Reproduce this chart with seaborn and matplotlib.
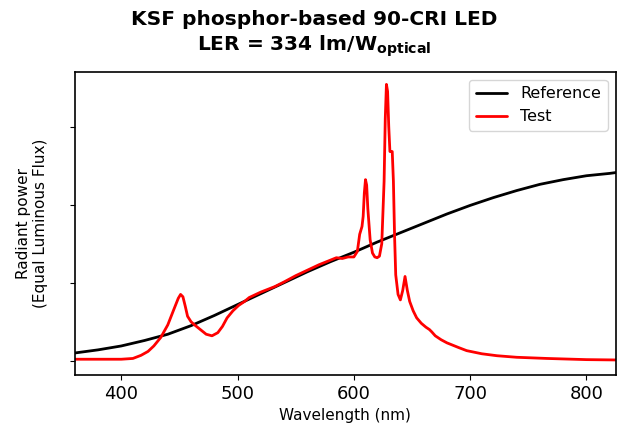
import seaborn as sns
import matplotlib.pyplot as plt
import pandas as pd

# Reference (black) spectrum
ref_nm = [360, 380, 400, 420, 440, 460, 480, 500, 520, 540, 560, 580, 600,
          620, 640, 660, 680, 700, 720, 740, 760, 780, 800, 820, 830]
ref_power = [0.10, 0.14, 0.19, 0.26, 0.34, 0.45, 0.58, 0.72, 0.86, 1.00, 1.14,
             1.27, 1.39, 1.52, 1.64, 1.76, 1.88, 1.99, 2.09, 2.18, 2.26, 2.32,
             2.37, 2.40, 2.42]

# Test (red) spectrum, KSF phosphor LED
test_nm = [360, 380, 400, 410, 417, 423, 428, 434, 440, 445, 449, 451, 453, 455,
           457, 460, 463, 468, 473, 478, 483, 487, 491, 496, 501, 506, 510, 520,
           532, 540, 550, 560, 570, 580, 585, 590, 595, 600, 603, 605, 607, 608,
           609, 610, 611, 612, 614, 616, 618, 620, 622, 624, 626, 627, 628, 629,
           630, 631, 632, 633, 634, 635, 636, 638, 640, 642, 644, 646, 648, 651,
           654, 658, 662, 665, 667, 670, 675, 680, 690, 697, 710, 723, 740, 766,
           800, 830]
test_power = [0.02, 0.02, 0.02, 0.03, 0.07, 0.12, 0.19, 0.30, 0.46, 0.65, 0.80,
              0.85, 0.82, 0.70, 0.57, 0.50, 0.46, 0.40, 0.34, 0.32, 0.36, 0.44,
              0.55, 0.64, 0.71, 0.76, 0.81, 0.88, 0.95, 1.01, 1.09, 1.16, 1.23,
              1.29, 1.32, 1.31, 1.33, 1.33, 1.40, 1.62, 1.72, 1.85, 2.15, 2.32,
              2.25, 1.95, 1.55, 1.38, 1.33, 1.32, 1.34, 1.50, 2.30, 3.10, 3.54,
              3.45, 3.00, 2.68, 2.68, 2.68, 2.30, 1.60, 1.10, 0.85, 0.78, 0.90,
              1.08, 0.90, 0.76, 0.64, 0.55, 0.48, 0.43, 0.40, 0.37, 0.32, 0.27,
              0.23, 0.17, 0.13, 0.09, 0.065, 0.045, 0.03, 0.015, 0.01]

title = 'KSF phosphor-based 90-CRI LED\nLER = 334 lm/W$_{\\mathbf{optical}}$'

ref_df = pd.DataFrame({'nm': ref_nm, 'power': ref_power})
test_df = pd.DataFrame({'nm': test_nm, 'power': test_power})

sns.set_style('ticks', rc={'text.color': 'black', 'axes.labelcolor': 'black',
                           'xtick.color': 'black', 'ytick.color': 'black',
                           'axes.edgecolor': 'black'})
plt.rcParams['font.family'] = ['DejaVu Sans']

fig = plt.figure(figsize=(6.23, 4.41), dpi=100)
ax = fig.add_axes([0.120, 0.150, 0.868, 0.687])

sns.lineplot(data=ref_df, x='nm', y='power', color='black', linewidth=2,
             label='Reference', ax=ax)
sns.lineplot(data=test_df, x='nm', y='power', color='red', linewidth=2,
             label='Test', ax=ax)

ax.set_xlim(360, 825)
ax.set_ylim(-0.18, 3.70)
ax.set_xticks([400, 500, 600, 700, 800])
ax.set_yticks([0, 1, 2, 3])
ax.set_yticklabels([])
ax.tick_params(axis='x', labelsize=13)
for s in ax.spines.values():
    s.set_linewidth(1.2)

ax.set_xlabel('Wavelength (nm)', fontsize=11)
ax.set_ylabel('Radiant power\n(Equal Luminous Flux)', fontsize=11, labelpad=12)
fig.text(0.505, 0.978, title, ha='center', va='top', fontsize=14.5,
         fontweight='bold', linespacing=1.3)
ax.legend(loc='upper right', fontsize=11.5)

fig.savefig('out.png', dpi=100)
